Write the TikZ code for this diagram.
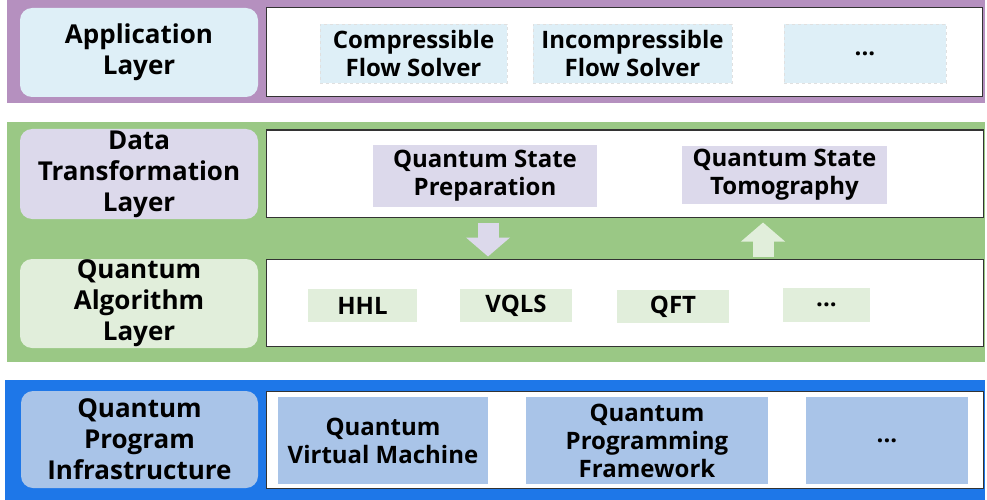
\documentclass[tikz,border=0pt]{standalone}
\usepackage{fontspec}
\setmainfont{Open Sans}
\usetikzlibrary{arrows.meta}

\definecolor{appband}{RGB}{181,144,191}
\definecolor{algband}{RGB}{154,200,133}
\definecolor{infband}{RGB}{30,119,232}
\definecolor{appfill}{RGB}{222,239,247}
\definecolor{datfill}{RGB}{220,217,235}
\definecolor{algfill}{RGB}{225,238,219}
\definecolor{inffill}{RGB}{169,196,232}

\tikzset{
  txt/.style={font=\bfseries\fontsize{24}{28}\selectfont, align=center, inner sep=0pt},
  layerbox/.style={txt, font=\bfseries\fontsize{26}{31}\selectfont, fill=#1, rounded corners=12pt},
  panel/.style={draw=black!80, fill=white, line width=1pt, inner sep=0pt},
  itembox/.style={txt, fill=#1},
  flowarrow/.style={line width=21pt, -{Triangle[length=19pt, width=43pt]}},
}

\begin{document}
\begin{tikzpicture}[x=1pt, y=-1pt]
\useasboundingbox (0,0) rectangle (987,500);

% bands
\fill[appband] (7,0) rectangle (985,103);
\fill[algband] (7,122) rectangle (985,362);
\fill[infband] (5,380) rectangle (985,500);

% application layer
\node[layerbox=appfill, minimum width=238pt, minimum height=89pt] (app) at (139,52.5) {Application\\Layer};
\node[panel, minimum width=716pt, minimum height=89pt] (appanel) at (624,52.5) {};
\node[itembox=appfill, draw=black!12, dashed, minimum width=187pt, minimum height=59pt] (comp) at (413.5,53.5) {Compressible\\Flow Solver};
\node[itembox=appfill, draw=black!12, dashed, minimum width=199pt, minimum height=59pt] (incomp) at (632.5,53.5) {Incompressible\\Flow Solver};
\node[itembox=appfill, draw=black!12, dashed, minimum width=162pt, minimum height=59pt] (appmore) at (865,53.5) {...};

% data transformation layer
\node[layerbox=datfill, minimum width=238pt, minimum height=90pt] (dat) at (139,174) {Data\\Transformation\\Layer};
\node[panel, minimum width=717pt, minimum height=87pt] (datpanel) at (624.5,173.5) {};
\node[itembox=datfill, minimum width=224pt, minimum height=62pt] (prep) at (485,176) {Quantum State\\Preparation};
\node[itembox=datfill, minimum width=205pt, minimum height=58pt] (tomo) at (784.5,175) {Quantum State\\Tomography};

% quantum algorithm layer
\node[layerbox=algfill, minimum width=238pt, minimum height=89pt] (alg) at (139,303.5) {Quantum\\Algorithm\\Layer};
\node[panel, minimum width=717pt, minimum height=87pt] (algpanel) at (624.5,302.5) {};
\node[itembox=algfill, minimum width=109pt, minimum height=33pt] (hhl) at (362.5,305.5) {HHL};
\node[itembox=algfill, minimum width=112pt, minimum height=33pt] (vqls) at (516,305.5) {VQLS};
\node[itembox=algfill, minimum width=112pt, minimum height=33pt] (qft) at (673,306.5) {QFT};
\node[itembox=algfill, minimum width=87pt, minimum height=34pt] (algmore) at (826.5,305) {...};

\draw[flowarrow, datfill] ([xshift=3pt, yshift=-5pt]prep.south |- datpanel.south) -- ([xshift=3pt, yshift=2pt]prep.south |- algpanel.north);
\draw[flowarrow, algfill] ([xshift=-21.5pt, yshift=2pt]tomo.south |- algpanel.north) -- ([xshift=-21.5pt, yshift=-5pt]tomo.south |- datpanel.south);

% infrastructure layer
\node[layerbox=inffill, minimum width=237pt, minimum height=97pt] (inf) at (139.5,439.5) {Quantum\\Program\\Infrastructure};
\node[panel, minimum width=717pt, minimum height=97pt] (infpanel) at (624.5,439.5) {};
\node[itembox=inffill, minimum width=210pt, minimum height=87pt] (qvm) at (383,440.5) {Quantum\\Virtual Machine};
\node[itembox=inffill, minimum width=242pt, minimum height=87pt] (qpf) at (647,440.5) {Quantum\\Programming\\Framework};
\node[itembox=inffill, minimum width=162pt, minimum height=87pt] (infmore) at (887,440.5) {...};
\end{tikzpicture}
\end{document}
